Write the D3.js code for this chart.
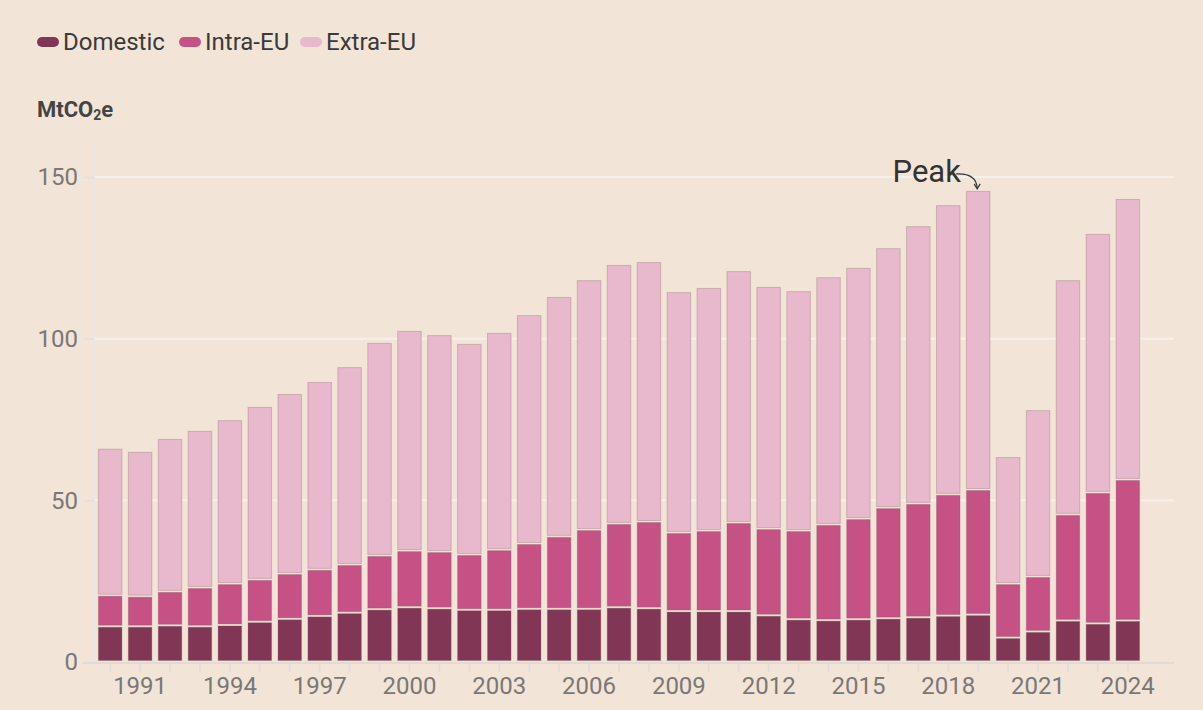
<!DOCTYPE html>
<html>
<head>
<meta charset="utf-8">
<script src="https://cdn.jsdelivr.net/npm/d3@7"></script>
<style>
  body { margin: 0; background: #f3e4d8; font-family: Roboto, sans-serif; }
  svg { display: block; }
</style>
</head>
<body>
<div class="chart-holder"></div>
<script>
// values in MtCO2e
let years = d3.range(1990, 2025)
let domestic = [10.9, 10.9, 11.2, 10.9, 11.3, 12.3, 13.2, 14.1, 15.1, 16.2,
                16.8, 16.5, 16.0, 16.0, 16.3, 16.3, 16.3, 16.8, 16.5, 15.6,
                15.6, 15.6, 14.3, 13.1, 12.8, 13.1, 13.4, 13.7, 14.2, 14.5,
                7.4, 9.3, 12.7, 11.8, 12.7]
let intraEU = [9.6, 9.3, 10.5, 12.0, 12.8, 13.1, 14.0, 14.4, 14.9, 16.6,
               17.5, 17.5, 17.1, 18.6, 20.2, 22.4, 24.5, 25.9, 26.8, 24.3,
               24.9, 27.4, 26.8, 27.4, 29.6, 31.1, 34.2, 35.2, 37.5, 38.7,
               16.7, 17.0, 32.8, 40.5, 43.6]
let extraEU = [45.5, 44.8, 47.3, 48.6, 50.7, 53.5, 55.7, 58.1, 61.2, 65.9,
               68.1, 67.1, 65.3, 67.2, 70.8, 74.2, 77.3, 80.1, 80.4, 74.5,
               75.2, 77.9, 74.9, 74.2, 76.6, 77.7, 80.4, 85.9, 89.6, 92.5,
               39.3, 51.6, 72.6, 80.1, 86.9]
let seriesNames = ['Domestic', 'Intra-EU', 'Extra-EU']
let seriesColors = ['#823656', '#c65185', '#e8b8cc']
let yTicks = [0, 50, 100, 150]
let xLabelYears = d3.range(1991, 2025, 3)

let width = 1203
let height = 710
let margin = { top: 145, bottom: 48, left: 94, right: 29 }

let table = years.map((y, i) => ({
    year: y, 'Domestic': domestic[i], 'Intra-EU': intraEU[i], 'Extra-EU': extraEU[i]
}))
let stacked = d3.stack().keys(seriesNames)(table)

let svg = d3.select('.chart-holder')
    .append('svg')
        .attr('width', width)
        .attr('height', height)

let x = d3.scaleBand()
    .domain(years)
    .range([margin.left, 1144])
    .paddingInner(0.18)
    .paddingOuter(0.13)

let y = d3.scaleLinear()
    .domain([0, 150])
    .range([662, 177])

// grid lines
svg.append('g').attr('class', 'grid')
    .selectAll('line')
    .data(yTicks.filter(d => d > 0))
    .enter()
    .append('line')
        .attr('x1', margin.left).attr('x2', width - margin.right)
        .attr('y1', d => y(d)).attr('y2', d => y(d))
        .attr('stroke', '#f7efea').attr('stroke-width', 2)

// y axis line
svg.append('line')
    .attr('x1', margin.left).attr('x2', margin.left)
    .attr('y1', margin.top).attr('y2', y(0))
    .attr('stroke', '#ebe6e2').attr('stroke-width', 2)

let yAxis = svg.append('g')
    .attr('transform', 'translate(' + margin.left + ',0)')
    .call(d3.axisLeft(y).tickValues(yTicks).tickSize(10).tickPadding(6))
yAxis.select('.domain').remove()
yAxis.selectAll('.tick line').attr('stroke', '#e6e0dc').attr('stroke-width', 2)
yAxis.selectAll('.tick text')
    .attr('fill', '#7a7776')
    .style('font-family', 'Roboto, sans-serif')
    .style('font-size', '24px')

// bars
let gap = 2
svg.append('g').attr('class', 'bars')
    .selectAll('g')
    .data(stacked)
    .enter()
    .append('g')
        .attr('fill', (d, i) => seriesColors[i])
    .selectAll('rect')
    .data(d => d)
    .enter()
    .append('rect')
        .attr('x', d => x(d.data.year) + 0.5)
        .attr('width', x.bandwidth() - 1)
        .attr('y', d => y(d[1]) + 0.5)
        .attr('height', d => Math.max(0, y(d[0]) - y(d[1]) - gap))
        .attr('stroke', 'rgba(120, 90, 90, 0.28)')
        .attr('stroke-width', 1)

// x axis
svg.append('line')
    .attr('x1', 83).attr('x2', 1174)
    .attr('y1', y(0) + 1).attr('y2', y(0) + 1)
    .attr('stroke', '#e0dbd7').attr('stroke-width', 2)

let xAxis = svg.append('g')
    .attr('transform', 'translate(0,' + (y(0) + 1) + ')')
    .call(d3.axisBottom(x).tickSize(9).tickPadding(5)
        .tickFormat(d => xLabelYears.includes(d) ? d : ''))
xAxis.select('.domain').remove()
xAxis.selectAll('.tick line').attr('stroke', '#e3ddd9').attr('stroke-width', 2)
xAxis.selectAll('.tick text')
    .attr('fill', '#7a7776')
    .style('font-family', 'Roboto, sans-serif')
    .style('font-size', '24px')

// legend
let legend = svg.append('g').attr('class', 'legend')
let legendX = [37, 179, 300]
seriesNames.forEach((name, i) => {
    let g = legend.append('g').attr('transform', 'translate(' + legendX[i] + ',37)')
    g.append('rect')
        .attr('width', 22).attr('height', 10).attr('rx', 5)
        .attr('fill', seriesColors[i])
    g.append('text')
        .attr('x', 26).attr('y', 13)
        .attr('fill', '#3a3a3a')
        .style('font-size', '24px')
        .text(name)
})

// unit label
let unit = svg.append('text')
    .attr('x', 37).attr('y', 117)
    .attr('fill', '#444')
    .style('font-size', '22px')
    .style('font-weight', 'bold')
unit.append('tspan').text('MtCO')
unit.append('tspan').text('2').style('font-size', '14px').attr('dy', 3)
unit.append('tspan').text('e').attr('dy', -3)

// peak annotation
let peakYear = 2019
let peakTop = y(domestic[29] + intraEU[29] + extraEU[29])
svg.append('text')
    .attr('x', x(peakYear) - 5).attr('y', 182)
    .attr('text-anchor', 'end')
    .attr('fill', '#333')
    .style('font-size', '31px')
    .text('Peak')
let ax = x(peakYear) + x.bandwidth() / 2
svg.append('path')
    .attr('d', 'M' + (ax - 22) + ',' + (peakTop - 17) + ' Q' + (ax - 2) + ',' + (peakTop - 18) + ' ' + (ax - 1) + ',' + (peakTop - 3))
    .attr('fill', 'none').attr('stroke', '#333').attr('stroke-width', 1.2)
svg.append('path')
    .attr('d', 'M' + (ax - 4) + ',' + (peakTop - 7) + ' L' + (ax - 1) + ',' + (peakTop - 2) + ' L' + (ax + 2) + ',' + (peakTop - 7))
    .attr('fill', 'none').attr('stroke', '#333').attr('stroke-width', 1.2)
</script>
</body>
</html>
